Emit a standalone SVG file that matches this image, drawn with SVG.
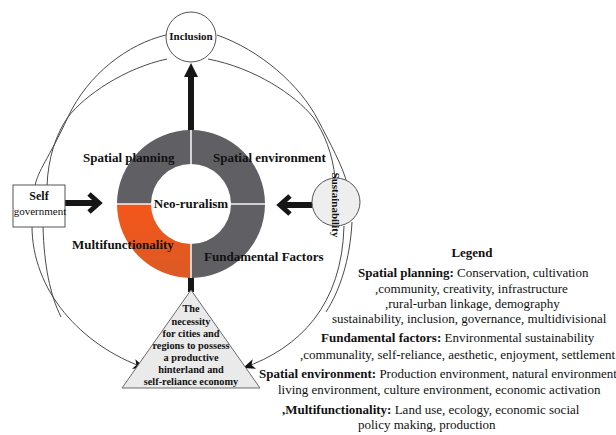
<svg xmlns="http://www.w3.org/2000/svg" width="616" height="435" viewBox="0 0 616 435" font-family="'Liberation Serif', 'DejaVu Serif', serif">
  <style>
    text { font-family: 'Liberation Serif', 'DejaVu Serif', serif; fill: #111; }
    .b { font-weight: bold; }
    .thin { fill: none; stroke: #4a4a4a; stroke-width: 1; }
    .thick { fill: none; stroke: #161616; stroke-width: 6; }
    .chev { fill: none; stroke: #161616; stroke-width: 5; stroke-linejoin: miter; }
    .seg { stroke: none; }
    .div { stroke: #f4f4f4; stroke-width: 1.6; }
  </style>
  <defs>
    <marker id="head" markerUnits="userSpaceOnUse" markerWidth="14" markerHeight="12" refX="12" refY="5" orient="auto">
      <path d="M0,0 L12,5 L0,10 L3,5 Z" fill="#111"/>
    </marker>
    <linearGradient id="orange" x1="0" y1="0" x2="0" y2="1">
      <stop offset="0" stop-color="#f4561a"/>
      <stop offset="1" stop-color="#dc5a24"/>
    </linearGradient>
  </defs>

  <rect width="616" height="435" fill="#ffffff"/>

  <!-- connectors: outer loops and thick arrows -->
  <g id="connectors">
    <!-- left side loops -->
    <path class="thin" d="M166,35 C128,44 88,74 68,117 C48,160 38,170 35,186"/>
    <path class="thin" d="M167,59 C125,68 85,95 68,117 C56,134 48,158 47,186"/>
    <path class="thin" d="M32,226 C32,290 80,345 145,368" marker-end="url(#head)"/>
    <path class="thin" d="M43,226 C44,265 50,295 61,317"/>
    <!-- right side loops -->
    <path class="thin" d="M217,35 C260,50 300,85 318,120 C330,143 342,165 347,183"/>
    <path class="thin" d="M208,59 C255,68 295,95 313,117 C324,132 333,155 335,178"/>
    <path class="thin" d="M344,226 C342,305 300,348 243,368" marker-end="url(#head)"/>
    <path class="thin" d="M352,222 C350,260 340,290 326,312"/>

    <!-- up arrow to Inclusion -->
    <line class="thick" x1="191" y1="131" x2="191" y2="74"/>
    <polygon points="191,63 184,77 198,77" fill="#161616"/>
    <!-- Self government arrow -->
    <line class="thick" x1="65" y1="203" x2="98" y2="203"/>
    <polyline class="chev" points="89,194 99,203 89,212"/>
    <!-- Sustainability arrow -->
    <line class="thick" x1="312" y1="205" x2="281" y2="205"/>
    <polyline class="chev" points="290,196 280,205 290,214"/>
    <!-- ring to triangle -->
    <rect x="188" y="277" width="6" height="15" fill="#161616"/>
  </g>

  <!-- central ring -->
  <g id="neo-ruralism">
    <path class="seg" fill="#605f64" d="M117,204 A74,74 0 0 1 191,130 L191,164 A40,40 0 0 0 151,204 Z"/>
    <path class="seg" fill="#605f64" d="M191,130 A74,74 0 0 1 265,204 L231,204 A40,40 0 0 0 191,164 Z"/>
    <path class="seg" fill="#605f64" d="M265,204 A74,74 0 0 1 191,278 L191,244 A40,40 0 0 0 231,204 Z"/>
    <path class="seg" fill="url(#orange)" d="M191,278 A74,74 0 0 1 117,204 L151,204 A40,40 0 0 0 191,244 Z"/>
    <line class="div" x1="191" y1="130" x2="191" y2="164"/>
    <line class="div" x1="191" y1="244" x2="191" y2="278"/>
    <line class="div" x1="117" y1="204" x2="151" y2="204"/>
    <line class="div" x1="231" y1="204" x2="265" y2="204"/>
    <text class="b" x="191" y="208" font-size="13" text-anchor="middle">Neo-ruralism</text>
    <text class="b" x="83" y="162" font-size="13">Spatial planning</text>
    <text class="b" x="213" y="162" font-size="13">Spatial environment</text>
    <text class="b" x="72" y="249" font-size="13">Multifunctionality</text>
    <text class="b" x="204" y="261" font-size="13">Fundamental Factors</text>
  </g>

  <!-- Inclusion node -->
  <g id="inclusion">
    <circle cx="191" cy="37" r="25" fill="#ffffff" stroke="#555" stroke-width="1"/>
    <text class="b" x="191" y="40" font-size="11" text-anchor="middle">Inclusion</text>
  </g>

  <!-- Self government node -->
  <g id="self-government">
    <rect x="13" y="185" width="52" height="42" fill="#ffffff" stroke="#555" stroke-width="1"/>
    <text class="b" x="39" y="200" font-size="12" text-anchor="middle">Self</text>
    <text x="40" y="215" font-size="11" text-anchor="middle">government</text>
  </g>

  <!-- Sustainability node -->
  <g id="sustainability">
    <circle cx="336" cy="202" r="24" fill="#eeeeef" stroke="#555" stroke-width="1"/>
    <text class="b" font-size="11" text-anchor="middle" transform="translate(332,205) rotate(90)">Sustainability</text>
  </g>

  <!-- necessity triangle -->
  <g id="necessity">
    <polygon points="191,290 122,388 260,388" fill="#eaeaea" stroke="#6a6a6a" stroke-width="1"/>
    <g font-size="10.3" text-anchor="middle">
      <text class="b" x="191" y="312">The</text>
      <text class="b" x="191" y="325">necessity</text>
      <text class="b" x="191" y="337">for cities and</text>
      <text class="b" x="191" y="349">regions to possess</text>
      <text class="b" x="191" y="361">a productive</text>
      <text class="b" x="191" y="373">hinterland and</text>
      <text class="b" x="191" y="385">self-reliance economy</text>
    </g>
  </g>

  <!-- legend -->
  <g id="legend" font-size="13">
    <text class="b" x="472" y="257" text-anchor="middle">Legend</text>
    <text x="358" y="277"><tspan class="b">Spatial planning:</tspan> Conservation, cultivation</text>
    <text x="375" y="293">,community, creativity, infrastructure</text>
    <text x="385" y="308">,rural-urban linkage, demography</text>
    <text x="332" y="323">sustainability, inclusion, governance, multidivisional</text>
    <text x="321" y="342"><tspan class="b">Fundamental factors:</tspan> Environmental sustainability</text>
    <text x="300" y="359">,communality, self-reliance, aesthetic, enjoyment, settlement</text>
    <text x="259" y="378"><tspan class="b">Spatial environment:</tspan> Production environment, natural environment</text>
    <text x="278" y="394">living environment, culture environment, economic activation</text>
    <text x="282" y="414"><tspan class="b">,Multifunctionality:</tspan> Land use, ecology, economic social</text>
    <text x="358" y="429">policy making, production</text>
  </g>
</svg>
